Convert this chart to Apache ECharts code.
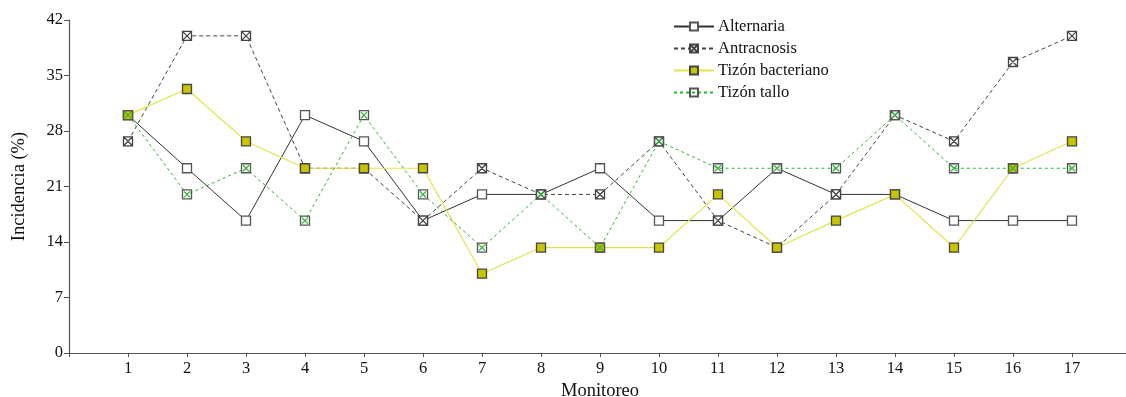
<!DOCTYPE html>
<html>
<head>
<meta charset="utf-8">
<script src="https://cdn.jsdelivr.net/npm/echarts@6/dist/echarts.min.js"></script>
<style>
  html, body { margin: 0; padding: 0; background: #fff; overflow: hidden; }
  #chart { width: 1126px; height: 397px; }
</style>
</head>
<body>
<div id="chart"></div>
<script>
// Monitoring rounds (x positions)
const monitoreo = [1, 2, 3, 4, 5, 6, 7, 8, 9, 10, 11, 12, 13, 14, 15, 16, 17];

// Disease incidence (%) per monitoring round
const alternaria        = [30, 23.3, 16.7, 30, 26.7, 16.7, 20, 20, 23.3, 16.7, 16.7, 23.3, 20, 20, 16.7, 16.7, 16.7];
const antracnosis       = [26.7, 40, 40, 23.3, 23.3, 16.7, 23.3, 20, 20, 26.7, 16.7, 13.3, 20, 30, 26.7, 36.7, 40];
const tizonBacteriano   = [30, 33.3, 26.7, 23.3, 23.3, 23.3, 10, 13.3, 13.3, 13.3, 20, 13.3, 16.7, 20, 13.3, 23.3, 26.7];
const tizonTallo        = [30, 20, 23.3, 16.7, 30, 20, 13.3, 20, 13.3, 26.7, 23.3, 23.3, 23.3, 30, 23.3, 23.3, 23.3];

// Y axis ticks
const yTicks = [0, 7, 14, 21, 28, 35, 42];

const pairs = arr => monitoreo.map((m, i) => [m, arr[i]]);

const FONT = '"Liberation Serif", "DejaVu Serif", serif';
const AXIS_COLOR = '#555';

// Square with diagonal cross marker
const CROSS_BOX = 'path://M0,0 L10,0 L10,10 L0,10 Z M0,0 L10,10 M10,0 L0,10';
const CROSS_ONLY = 'path://M0,0 L10,10 M10,0 L0,10';

const chart = echarts.init(document.getElementById('chart'), null, { renderer: 'canvas' });

chart.setOption({
  animation: false,
  backgroundColor: '#fff',
  grid: { left: 69, top: 20, width: 1062, height: 333, containLabel: false, outerBoundsMode: 'none' },
  legend: {
    orient: 'vertical',
    left: 668,
    top: 13,
    itemWidth: 40,
    itemHeight: 10,
    itemGap: 5,
    data: ['Alternaria', 'Antracnosis', 'Tizón bacteriano', 'Tizón tallo'],
    textStyle: { fontFamily: FONT, fontSize: 16.5, color: '#111', padding: [0, 0, 0, -1] }
  },
  xAxis: {
    type: 'value',
    min: 0,
    max: 18,
    interval: 1,
    name: 'Monitoreo',
    nameLocation: 'middle',
    nameGap: 22,
    nameTextStyle: { fontFamily: FONT, fontSize: 18.5, color: '#111' },
    splitLine: { show: false },
    axisLine: { lineStyle: { color: AXIS_COLOR, width: 1.2 } },
    axisTick: { show: true, length: 4, lineStyle: { color: AXIS_COLOR } },
    axisLabel: {
      margin: 7,
      fontFamily: FONT,
      fontSize: 16.5,
      color: '#111',
      formatter: v => (monitoreo.includes(v) ? String(v) : '')
    }
  },
  yAxis: {
    type: 'value',
    min: yTicks[0],
    max: yTicks[yTicks.length - 1],
    interval: yTicks[1] - yTicks[0],
    name: 'Incidencia (%)',
    nameLocation: 'middle',
    nameGap: 40,
    nameTextStyle: { fontFamily: FONT, fontSize: 18.5, color: '#111' },
    splitLine: { show: false },
    axisLine: { show: true, lineStyle: { color: AXIS_COLOR, width: 1.2 } },
    axisTick: { show: true, length: 5, lineStyle: { color: AXIS_COLOR } },
    axisLabel: { margin: 6, fontFamily: FONT, fontSize: 16.5, color: '#111' }
  },
  series: [
    {
      name: 'Alternaria',
      type: 'line',
      data: pairs(alternaria),
      symbol: 'rect',
      symbolSize: 9,
      lineStyle: { color: '#333', width: 1, type: 'solid' },
      itemStyle: { color: '#fff', borderColor: '#555', borderWidth: 1.3 },
      emphasis: { disabled: true }
    },
    {
      name: 'Antracnosis',
      type: 'line',
      data: pairs(antracnosis),
      symbol: CROSS_BOX,
      symbolSize: 9,
      lineStyle: { color: '#444', width: 1, type: [4, 3] },
      itemStyle: { color: '#fff', borderColor: '#444', borderWidth: 1.3 },
      emphasis: { disabled: true }
    },
    {
      name: 'Tizón bacteriano',
      type: 'line',
      data: pairs(tizonBacteriano),
      symbol: 'rect',
      symbolSize: 9,
      lineStyle: { color: '#e3e34a', width: 1.2, type: 'solid' },
      itemStyle: { color: '#c9c400', borderColor: '#444', borderWidth: 1.3 },
      emphasis: { disabled: true }
    },
    {
      name: 'Tizón tallo',
      type: 'line',
      data: pairs(tizonTallo),
      symbol: 'rect',
      symbolSize: 9,
      lineStyle: { color: '#2fb52f', width: 1, type: [3, 3] },
      itemStyle: { color: 'rgba(255,255,255,0)', borderColor: '#555', borderWidth: 1.3 },
      emphasis: { disabled: true }
    },
    {
      // green cross drawn inside the Tizón tallo markers
      name: 'Tizón tallo marca',
      type: 'line',
      data: pairs(tizonTallo),
      symbol: CROSS_ONLY,
      symbolSize: 6,
      lineStyle: { opacity: 0 },
      itemStyle: { color: 'rgba(0,0,0,0)', borderColor: '#2fb52f', borderWidth: 1.2 },
      emphasis: { disabled: true },
      silent: true
    }
  ]
});
</script>
</body>
</html>
